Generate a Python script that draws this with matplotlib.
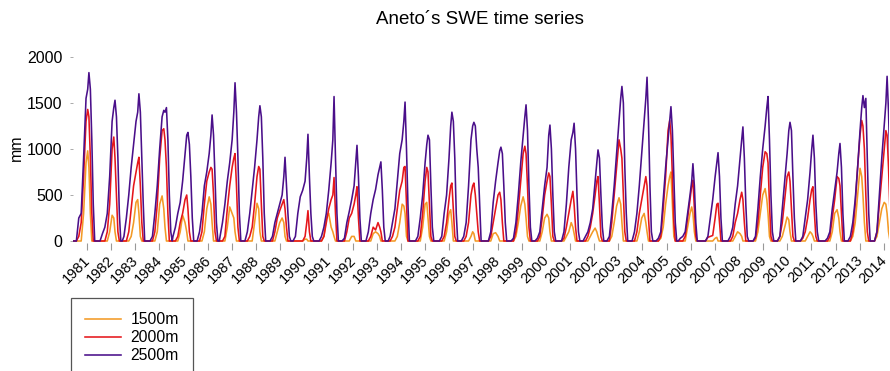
import numpy as np
import matplotlib
matplotlib.use("Agg")
import matplotlib.pyplot as plt
import matplotlib.transforms as mtransforms

plt.rcParams['font.family'] = ['Liberation Sans', 'DejaVu Sans']

# season labels and the time of each season's SWE maximum (decimal axis years)
seasons = list(range(1981, 2015))
peak_t = [1981.08, 1982.16, 1983.15, 1984.23, 1985.18, 1986.18, 1987.13, 1988.16,
          1989.20, 1990.15, 1991.23, 1992.18, 1993.17, 1994.17, 1995.12, 1996.11,
          1997.02, 1998.14, 1999.18, 2000.17, 2001.17, 2002.16, 2003.15, 2004.19,
          2005.18, 2006.09, 2007.13, 2008.16, 2009.20, 2010.11, 2011.06, 2012.18,
          2013.13, 2014.13]
# sample times relative to the peak (years)
rel = [-0.62, -0.52, -0.42, -0.32, -0.22, -0.12, -0.05, 0.0, 0.06, 0.12, 0.18, 0.24, 0.30]

# SWE (mm), one row per season
swe_2500 = [
    [0, 0, 250, 300, 900, 1550, 1650, 1830, 1650, 1100, 400, 0, 0],
    [0, 80, 150, 300, 700, 1300, 1450, 1530, 1350, 900, 300, 0, 0],
    [50, 250, 500, 800, 1050, 1300, 1400, 1600, 1400, 900, 400, 0, 0],
    [0, 50, 300, 600, 1000, 1350, 1420, 1400, 1450, 1100, 500, 100, 0],
    [50, 150, 300, 420, 650, 950, 1150, 1180, 1050, 700, 250, 0, 0],
    [0, 100, 300, 600, 750, 950, 1150, 1370, 1150, 700, 200, 0, 0],
    [50, 200, 400, 650, 850, 1100, 1400, 1720, 1400, 900, 300, 0, 0],
    [0, 100, 300, 550, 800, 1100, 1350, 1470, 1350, 900, 300, 0, 0],
    [0, 50, 200, 300, 400, 500, 700, 910, 600, 300, 50, 0, 0],
    [0, 50, 300, 480, 550, 650, 900, 1160, 700, 300, 50, 0, 0],
    [0, 50, 150, 300, 550, 850, 1100, 1570, 900, 300, 0, 0, 0],
    [0, 30, 200, 320, 450, 600, 850, 1040, 700, 250, 0, 0, 0],
    [0, 100, 300, 450, 560, 720, 800, 860, 550, 150, 0, 0, 0],
    [50, 200, 350, 650, 950, 1100, 1300, 1510, 1000, 400, 0, 0, 0],
    [0, 0, 50, 250, 500, 850, 1050, 1150, 1100, 600, 150, 0, 0],
    [0, 0, 50, 300, 500, 900, 1250, 1400, 1300, 900, 300, 0, 0],
    [0, 0, 50, 200, 600, 1100, 1250, 1290, 1250, 1000, 800, 400, 0],
    [0, 0, 100, 420, 650, 850, 980, 1020, 950, 600, 200, 0, 0],
    [0, 30, 200, 500, 850, 1150, 1350, 1480, 1200, 600, 150, 0, 0],
    [0, 30, 100, 350, 600, 800, 1150, 1260, 1000, 500, 100, 0, 0],
    [0, 0, 100, 400, 800, 1100, 1180, 1280, 1000, 500, 100, 0, 0],
    [0, 50, 100, 200, 350, 650, 850, 990, 900, 500, 150, 0, 0],
    [0, 50, 300, 600, 950, 1300, 1550, 1680, 1500, 800, 300, 0, 0],
    [0, 100, 300, 600, 950, 1300, 1550, 1780, 1300, 600, 100, 0, 0],
    [0, 30, 100, 450, 800, 1100, 1300, 1460, 1200, 700, 200, 0, 0],
    [0, 30, 50, 100, 300, 500, 650, 840, 600, 200, 0, 0, 0],
    [0, 0, 50, 250, 450, 700, 850, 960, 700, 250, 0, 0, 0],
    [0, 50, 150, 400, 600, 900, 1100, 1240, 900, 400, 50, 0, 0],
    [0, 50, 350, 700, 1000, 1250, 1450, 1570, 1100, 500, 100, 0, 0],
    [0, 0, 50, 350, 650, 950, 1200, 1290, 1200, 700, 250, 0, 0],
    [0, 0, 50, 250, 450, 750, 1000, 1150, 900, 400, 100, 0, 0],
    [0, 30, 100, 350, 550, 750, 950, 1060, 800, 300, 0, 0, 0],
    [0, 50, 200, 450, 800, 1200, 1450, 1580, 1450, 1550, 900, 300, 0],
    [0, 0, 100, 500, 900, 1250, 1500, 1790, 1400, 800, 200, 0, 0],
]
swe_2000 = [
    [0, 0, 50, 200, 700, 1300, 1430, 1350, 900, 300, 0, 0, 0],
    [0, 0, 0, 100, 400, 1000, 1130, 900, 500, 100, 0, 0, 0],
    [0, 0, 100, 350, 600, 750, 850, 910, 600, 200, 0, 0, 0],
    [0, 0, 100, 400, 900, 1200, 1220, 1100, 800, 300, 0, 0, 0],
    [0, 0, 50, 200, 300, 450, 500, 350, 100, 0, 0, 0, 0],
    [0, 0, 100, 400, 650, 750, 800, 780, 500, 100, 0, 0, 0],
    [0, 0, 50, 350, 600, 800, 900, 950, 600, 150, 0, 0, 0],
    [0, 0, 50, 150, 400, 700, 810, 780, 400, 50, 0, 0, 0],
    [0, 0, 100, 250, 330, 400, 450, 350, 150, 0, 0, 0, 0],
    [0, 0, 0, 0, 0, 50, 200, 330, 100, 0, 0, 0, 0],
    [0, 0, 50, 200, 350, 450, 500, 690, 300, 0, 0, 0, 0],
    [0, 0, 100, 250, 300, 400, 500, 590, 250, 0, 0, 0, 0],
    [0, 0, 50, 150, 120, 200, 150, 100, 0, 0, 0, 0, 0],
    [0, 50, 150, 350, 550, 650, 800, 810, 400, 0, 0, 0, 0],
    [0, 0, 0, 50, 300, 650, 800, 750, 400, 50, 0, 0, 0],
    [0, 0, 0, 50, 200, 450, 600, 630, 350, 50, 0, 0, 0],
    [0, 0, 0, 50, 200, 500, 600, 630, 500, 300, 100, 0, 0],
    [0, 0, 50, 200, 350, 500, 530, 450, 200, 0, 0, 0, 0],
    [0, 0, 100, 350, 650, 950, 1030, 950, 600, 150, 0, 0, 0],
    [0, 0, 50, 250, 500, 650, 740, 700, 400, 50, 0, 0, 0],
    [0, 0, 30, 150, 300, 450, 540, 400, 150, 0, 0, 0, 0],
    [0, 0, 50, 150, 300, 500, 650, 700, 400, 50, 0, 0, 0],
    [0, 0, 200, 500, 800, 1100, 1000, 900, 500, 100, 0, 0, 0],
    [0, 0, 100, 300, 450, 600, 700, 600, 250, 0, 0, 0, 0],
    [0, 0, 50, 350, 700, 1200, 1310, 1150, 700, 200, 0, 0, 0],
    [0, 0, 0, 50, 250, 450, 600, 660, 350, 50, 0, 0, 0],
    [0, 0, 40, 50, 60, 250, 400, 410, 200, 0, 0, 0, 0],
    [0, 0, 50, 200, 300, 450, 530, 450, 200, 0, 0, 0, 0],
    [0, 30, 200, 500, 800, 970, 950, 850, 400, 50, 0, 0, 0],
    [0, 0, 50, 200, 450, 700, 750, 650, 350, 50, 0, 0, 0],
    [0, 0, 30, 100, 250, 450, 560, 590, 300, 50, 0, 0, 0],
    [0, 0, 50, 250, 450, 700, 680, 600, 300, 0, 0, 0, 0],
    [0, 0, 100, 400, 800, 1150, 1310, 1250, 1000, 500, 100, 0, 0],
    [0, 0, 100, 400, 700, 1000, 1200, 1150, 800, 300, 0, 0, 0],
]
swe_1500 = [
    [0, 0, 0, 0, 300, 850, 980, 800, 300, 0, 0, 0, 0],
    [0, 0, 0, 0, 100, 280, 250, 100, 0, 0, 0, 0, 0],
    [0, 0, 0, 50, 200, 420, 450, 300, 50, 0, 0, 0, 0],
    [0, 0, 0, 100, 400, 490, 350, 150, 0, 0, 0, 0, 0],
    [0, 0, 0, 100, 280, 200, 100, 0, 0, 0, 0, 0, 0],
    [0, 0, 0, 100, 350, 480, 400, 200, 0, 0, 0, 0, 0],
    [0, 0, 0, 150, 370, 300, 250, 100, 0, 0, 0, 0, 0],
    [0, 0, 0, 0, 200, 410, 350, 100, 0, 0, 0, 0, 0],
    [0, 0, 0, 100, 200, 250, 200, 50, 0, 0, 0, 0, 0],
    [0, 0, 0, 0, 0, 20, 20, 0, 0, 0, 0, 0, 0],
    [0, 0, 50, 250, 300, 150, 100, 50, 0, 0, 0, 0, 0],
    [0, 0, 0, 0, 50, 50, 0, 0, 0, 0, 0, 0, 0],
    [0, 0, 0, 80, 100, 80, 50, 0, 0, 0, 0, 0, 0],
    [0, 0, 0, 50, 200, 400, 380, 300, 50, 0, 0, 0, 0],
    [0, 0, 0, 0, 150, 400, 420, 250, 50, 0, 0, 0, 0],
    [0, 0, 0, 0, 100, 300, 340, 200, 0, 0, 0, 0, 0],
    [0, 0, 0, 0, 0, 50, 100, 80, 0, 0, 0, 0, 0],
    [0, 0, 0, 80, 90, 50, 0, 0, 0, 0, 0, 0, 0],
    [0, 0, 50, 200, 380, 480, 400, 250, 50, 0, 0, 0, 0],
    [0, 0, 0, 100, 250, 290, 250, 100, 0, 0, 0, 0, 0],
    [0, 0, 0, 50, 100, 200, 150, 80, 0, 0, 0, 0, 0],
    [0, 0, 0, 50, 100, 140, 100, 50, 0, 0, 0, 0, 0],
    [0, 0, 50, 200, 380, 470, 400, 200, 0, 0, 0, 0, 0],
    [0, 0, 0, 100, 250, 300, 200, 100, 0, 0, 0, 0, 0],
    [0, 0, 30, 150, 400, 600, 700, 750, 400, 50, 0, 0, 0],
    [0, 0, 0, 0, 150, 300, 370, 300, 100, 0, 0, 0, 0],
    [0, 0, 0, 0, 0, 30, 40, 0, 0, 0, 0, 0, 0],
    [0, 0, 0, 50, 100, 80, 50, 0, 0, 0, 0, 0, 0],
    [0, 0, 100, 300, 500, 570, 450, 300, 50, 0, 0, 0, 0],
    [0, 0, 0, 50, 150, 260, 230, 100, 0, 0, 0, 0, 0],
    [0, 0, 0, 0, 50, 100, 80, 50, 0, 0, 0, 0, 0],
    [0, 0, 0, 100, 300, 340, 250, 100, 0, 0, 0, 0, 0],
    [0, 0, 50, 200, 500, 790, 700, 500, 200, 0, 0, 0, 0],
    [0, 0, 50, 200, 350, 420, 400, 300, 100, 0, 0, 0, 0],
]

t_start = 1980.42
t_end = 2014.21


def build_series(rows):
    t = [t_start]
    v = [0]
    for pk, row in zip(peak_t, rows):
        t.extend(pk + r for r in rel)
        v.extend(row)
    t = np.array(t)
    v = np.array(v, dtype=float)
    order = np.argsort(t, kind='stable')
    return t[order], v[order]


fig = plt.figure(figsize=(8.9, 3.71), dpi=100)
ax = fig.add_axes([0.082, 0.3442, 0.9169, 0.5084])

series = [('1500m', swe_1500, '#F39A26'),
          ('2000m', swe_2000, '#E5161B'),
          ('2500m', swe_2500, '#4A0F8A')]
handles = []
for name, rows, col in series:
    t, v = build_series(rows)
    h, = ax.plot(t, v, color=col, lw=1.15, label=name)
    handles.append(h)

ax.set_xlim(t_start, t_end)
ax.set_ylim(-25, 2025)
for s in ax.spines.values():
    s.set_visible(False)

ax.set_yticks([0, 500, 1000, 1500, 2000])
ax.tick_params(axis='y', length=2, width=0.7, color='#aaaaaa', pad=5.5, labelsize=11.5)
ax.set_xticks(seasons)
ax.set_xticklabels([str(y) for y in seasons], rotation=45, ha='right',
                   rotation_mode='anchor', fontsize=10.5)
ax.tick_params(axis='x', length=5, width=0.8, color='#999999', pad=2)
# nudge the slanted year labels a little to the left, as in the original
shift = mtransforms.ScaledTranslation(-4 / 100, 0, fig.dpi_scale_trans)
for lab in ax.get_xticklabels():
    lab.set_transform(lab.get_transform() + shift)

fig.text(0.019, 1 - 148 / 371, 'mm', rotation=90, fontsize=11.5,
         ha='center', va='center')
fig.text(480 / 890, 1 - 20 / 371, 'Aneto\u00b4s SWE time series', fontsize=13.5,
         ha='center', va='center')

leg = fig.legend(handles=handles, loc='upper left',
                 bbox_to_anchor=(71 / 890, 1 - 298 / 371),
                 fontsize=11.3, frameon=True, fancybox=False, framealpha=1,
                 edgecolor='#555555', handlelength=2.3, handletextpad=0.6,
                 labelspacing=0.2, borderpad=0.9, borderaxespad=0)
leg.get_frame().set_linewidth(0.9)

fig.savefig('out.png', dpi=100)
